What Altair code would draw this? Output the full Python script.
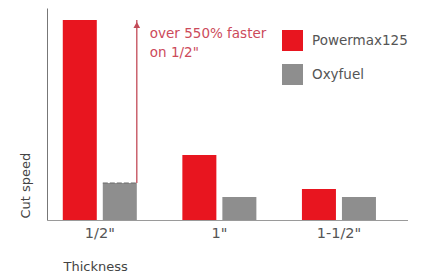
import altair as alt
import pandas as pd

categories = ['1/2"', '1"', '1-1/2"']
series = ["Powermax125", "Oxyfuel"]
powermax = [200, 65, 31]
oxyfuel = [37, 23, 23]
annotation = ["over 550% faster", 'on 1/2"']
colors = ["#e8151f", "#8e8e8e"]

rows = []
for c, p, o in zip(categories, powermax, oxyfuel):
    rows.append({"thickness": c, "series": series[0], "speed": p})
    rows.append({"thickness": c, "series": series[1], "speed": o})
df = pd.DataFrame(rows)

ann = pd.DataFrame([{
    "thickness": categories[0],
    "low": oxyfuel[0],
    "high": powermax[0],
    "label": annotation,
}])

xscale = alt.Scale(domain=categories, paddingInner=0.381, paddingOuter=0.2, align=0.33)
yscale = alt.Scale(domain=[0, 212], nice=False, zero=True)

bars = alt.Chart(df).mark_bar().encode(
    x=alt.X("thickness:N", scale=xscale, sort=categories,
            axis=alt.Axis(title="Thickness", labelAngle=0, ticks=False, domainColor="#9a9a9a",
                          labelColor="#555555", labelFontSize=14.5, labelPadding=6,
                          titleX=16, titleY=46, titleAlign="left", titleBaseline="middle",
                          titleFontSize=13, titleFontWeight="normal", titleColor="#444444")),
    xOffset=alt.XOffset("series:N", sort=series, scale=alt.Scale(domain=series, paddingInner=0.15, paddingOuter=0)),
    y=alt.Y("speed:Q", scale=yscale,
            axis=alt.Axis(title="Cut speed", labels=False, ticks=False, grid=False, domainColor="#777777",
                          titleX=-22, titleY=210, titleAlign="left", titleBaseline="middle",
                          titleFontSize=13, titleFontWeight="normal", titleColor="#444444")),
    color=alt.Color("series:N", sort=series, scale=alt.Scale(domain=series, range=colors),
                    legend=alt.Legend(title=None, orient="none", legendX=235, legendY=22,
                                      symbolType="square", symbolSize=441, symbolStrokeWidth=0,
                                      labelFontSize=13.5, labelColor="#555555", labelOffset=9,
                                      rowPadding=13, padding=0)),
)

dash = alt.Chart(df).transform_filter(
    (alt.datum.thickness == categories[0]) & (alt.datum.series == series[1])
).mark_bar(fill=None, stroke="#6a6a6a", strokeDash=[4, 3], strokeWidth=1.2).encode(
    x=alt.X("thickness:N", scale=xscale, sort=categories),
    xOffset=alt.XOffset("series:N", sort=series),
    y=alt.Y("speed:Q", scale=yscale),
    y2="speed:Q",
)

arrow = alt.Chart(ann).mark_rule(color="#c24a57", strokeWidth=1.3).encode(
    x=alt.X("thickness:N", scale=xscale, sort=categories, bandPosition=1),
    y=alt.Y("low:Q", scale=yscale),
    y2="high:Q",
)

head = alt.Chart(ann).mark_point(shape="triangle-up", filled=True, color="#c24a57", size=45, opacity=1, yOffset=5).encode(
    x=alt.X("thickness:N", scale=xscale, sort=categories, bandPosition=1),
    y=alt.Y("high:Q", scale=yscale),
)

text = alt.Chart(ann).mark_text(align="left", baseline="top", dx=13, dy=7, fontSize=13.5,
                                lineHeight=19, color="#cc4a5a").encode(
    x=alt.X("thickness:N", scale=xscale, sort=categories, bandPosition=1),
    y=alt.Y("high:Q", scale=yscale),
    text="label",
)

chart = alt.layer(bars, dash, arrow, head, text).properties(
    width=361, height=212,
    autosize=alt.AutoSizeParams(type="none"),
    padding={"left": 39, "top": 0, "right": 0, "bottom": 55},
).configure(font="DejaVu Sans").configure_view(stroke=None)

chart.save("out.html", embed_options={"renderer": "svg", "actions": False})
